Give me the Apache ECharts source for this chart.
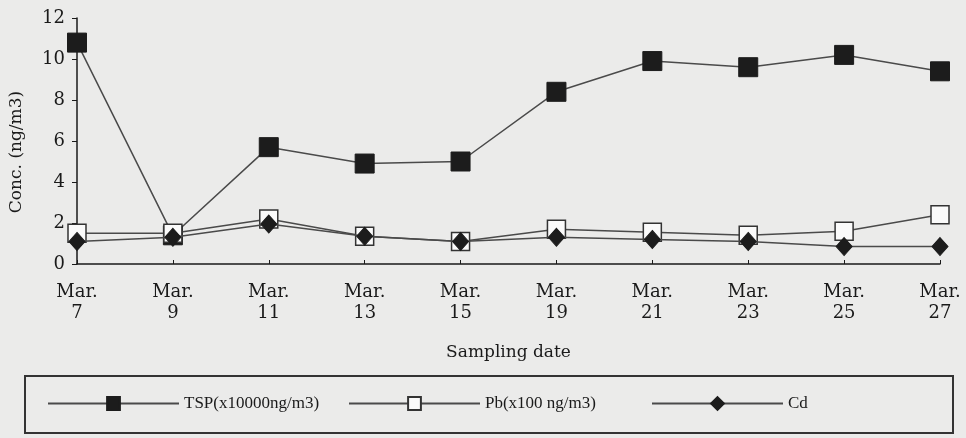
<!DOCTYPE html>
<html>
<head>
<meta charset="utf-8">
<script src="https://cdn.jsdelivr.net/npm/echarts@6/dist/echarts.min.js"></script>
<style>
  html, body { margin: 0; padding: 0; background: #ebebea; }
  #chart { width: 966px; height: 438px; }
</style>
</head>
<body>
<div id="chart"></div>
<script>
// sampling dates (category axis)
const dates = ['Mar.\n7', 'Mar.\n9', 'Mar.\n11', 'Mar.\n13', 'Mar.\n15', 'Mar.\n19', 'Mar.\n21', 'Mar.\n23', 'Mar.\n25', 'Mar.\n27'];
// TSP (x10000 ng/m3)
const tspValues = [10.8, 1.4, 5.7, 4.9, 5.0, 8.4, 9.9, 9.6, 10.2, 9.4];
// Pb (x100 ng/m3)
const pbValues = [1.5, 1.5, 2.2, 1.35, 1.1, 1.7, 1.55, 1.4, 1.6, 2.4];
// Cd
const cdValues = [1.1, 1.3, 1.95, 1.35, 1.1, 1.3, 1.2, 1.1, 0.85, 0.85];
const yTicks = { min: 0, max: 12, interval: 2 };

const ink = '#1a1a1a';
const lineInk = '#4a4a4a';
const serif = 'DejaVu Serif';
const legendFont = 'Liberation Serif';

const chart = echarts.init(document.getElementById('chart'));

const legendBase = {
  top: 390,
  itemWidth: 131,
  itemHeight: 16,
  itemGap: 0,
  textStyle: { fontFamily: legendFont, fontSize: 17, color: ink },
  selectedMode: false,
};

const option = {
  backgroundColor: '#ebebea',
  animation: false,
  grid: { left: 75, right: 26, top: 18, bottom: 174 },
  graphic: [{
    type: 'rect',
    shape: { x: 25, y: 376, width: 928, height: 57 },
    style: { fill: 'none', stroke: '#333', lineWidth: 2 },
    z: 1,
  }],
  legend: [
    Object.assign({}, legendBase, { left: 42, data: ['TSP(x10000ng/m3)'] }),
    Object.assign({}, legendBase, { left: 343, data: ['Pb(x100 ng/m3)'] }),
    Object.assign({}, legendBase, { left: 646, data: ['Cd'] }),
  ],
  xAxis: {
    type: 'category',
    data: dates,
    boundaryGap: false,
    name: 'Sampling date',
    nameLocation: 'middle',
    nameGap: 80,
    nameTextStyle: { fontFamily: serif, fontSize: 17, color: ink },
    axisLine: { lineStyle: { color: ink, width: 1.5 } },
    axisTick: { alignWithLabel: true, length: 4, inside: true, lineStyle: { color: ink } },
    axisLabel: { fontFamily: serif, fontSize: 18, color: ink, lineHeight: 21, margin: 18 },
  },
  yAxis: {
    type: 'value',
    min: yTicks.min,
    max: yTicks.max,
    interval: yTicks.interval,
    name: 'Conc. (ng/m3)',
    nameLocation: 'middle',
    nameGap: 52,
    nameTextStyle: { fontFamily: serif, fontSize: 17, color: ink, padding: [0, 22, 0, 0] },
    axisLine: { show: true, lineStyle: { color: ink, width: 1.5 } },
    axisTick: { show: true, length: 5, lineStyle: { color: ink } },
    splitLine: { show: false },
    axisLabel: { fontFamily: serif, fontSize: 18, color: ink, margin: 12 },
  },
  series: [
    {
      name: 'TSP(x10000ng/m3)',
      type: 'line',
      data: tspValues,
      symbol: 'rect',
      symbolSize: 19,
      z: 2,
      lineStyle: { color: lineInk, width: 1.5 },
      itemStyle: { color: '#1c1c1c', borderColor: '#1c1c1c', borderWidth: 1 },
    },
    {
      name: 'Pb(x100 ng/m3)',
      type: 'line',
      data: pbValues,
      symbol: 'rect',
      symbolSize: 18,
      z: 3,
      lineStyle: { color: lineInk, width: 1.5 },
      itemStyle: { color: '#fafafa', borderColor: '#333', borderWidth: 1.5 },
    },
    {
      name: 'Cd',
      type: 'line',
      data: cdValues,
      symbol: 'diamond',
      symbolSize: [16, 18],
      z: 4,
      lineStyle: { color: lineInk, width: 1.5 },
      itemStyle: { color: '#1c1c1c', borderColor: '#1c1c1c', borderWidth: 1 },
    },
  ],
};

chart.setOption(option);
</script>
</body>
</html>
